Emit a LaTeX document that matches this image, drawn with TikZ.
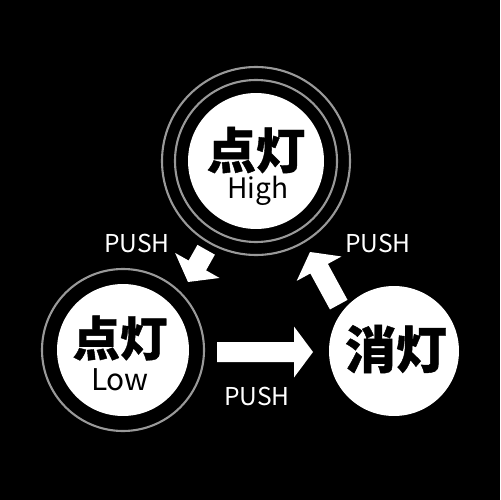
\documentclass[tikz,border=0pt]{standalone}
\usepackage{fontspec}
\newfontfamily\jp{Noto Sans CJK JP}[BoldFeatures={FakeBold=0.8}]
\newcommand\blockarrow[3]{%
  \begin{scope}[shift={#1},rotate=#2]
    \fill[white] (0,0) -- (-19,25.5) -- (-19,10) -- (-19-#3,10) -- (-19-#3,-10) -- (-19,-10) -- (-19,-25.5) -- cycle;
  \end{scope}}
\begin{document}
\begin{tikzpicture}[x=0.02cm,y=-0.02cm,
  disk/.style={circle,fill=white,inner sep=0pt},
  ring/.style={draw=black!40,line width=1.2pt},
  kanji/.style={font=\jp\bfseries\fontsize{28}{28}\selectfont,text=black,inner sep=0pt},
  sub/.style={font=\jp\fontsize{16}{16}\selectfont,text=black,inner sep=0pt},
  push/.style={font=\jp\fontsize{14}{14}\selectfont,text=white,inner sep=0pt}]
\fill[black] (0,0) rectangle (500,500);
\useasboundingbox (0,0) rectangle (500,500);
% top
\draw[ring] (256,161) circle (94);
\draw[ring] (256,161) circle (81);
\node[disk,minimum size=2.72cm] (high) at (256,161) {};
\node[kanji] (hk) at (256,150) {点灯};
\node[sub] (ht) at (258,191) {High};
% left
\draw[ring] (123,350) circle (81);
\node[disk,minimum size=2.64cm] (low) at (123,350) {};
\node[kanji,font=\jp\bfseries\fontsize{27}{27}\selectfont] (lk) at (120,338) {点灯};
\node[sub,font=\jp\fontsize{17}{17}\selectfont] (lt) at (120,380) {Low};
% right
\node[disk,minimum size=2.6cm] (off) at (394,351) {};
\node[kanji,font=\jp\bfseries\fontsize{29}{29}\selectfont] (ok) at (396,349) {消灯};
% arrows
\blockarrow{(313,352)}{0}{77}
\blockarrow{(310,252)}{118.6}{41}
\blockarrow{(188,282)}{240.6}{18}
% labels
\node[push] (p1) at (137,243) {PUSH};
\node[push] (p2) at (257,396) {PUSH};
\node[push] (p3) at (378,243) {PUSH};
\end{tikzpicture}
\end{document}
